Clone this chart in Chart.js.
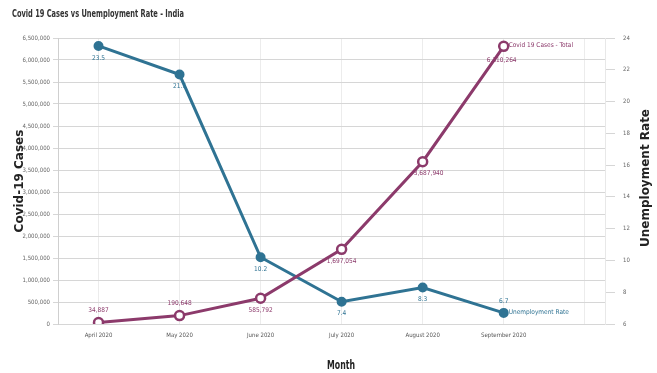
<!DOCTYPE html>
<html>
<head>
<meta charset="utf-8">
<script src="https://cdn.jsdelivr.net/npm/chart.js@4.4.1/dist/chart.umd.min.js"></script>
<style>
  html, body { margin: 0; padding: 0; background: #fff; }
  #wrap { width: 657px; height: 373px; position: relative; }
</style>
</head>
<body>
<div id="wrap"><canvas id="chart" width="657" height="373"></canvas></div>
<script>
// monthly figures, India 2020
var months = ["April 2020", "May 2020", "June 2020", "July 2020", "August 2020", "September 2020"];
var covidCases = [34887, 190648, 585792, 1697054, 3687940, 6310264];
var unemploymentRate = [23.5, 21.7, 10.2, 7.4, 8.3, 6.7];
var casesTicks = [0, 500000, 1000000, 1500000, 2000000, 2500000, 3000000, 3500000, 4000000, 4500000, 5000000, 5500000, 6000000, 6500000];
var rateTicks = [6, 8, 10, 12, 14, 16, 18, 20, 22, 24];

var COVID = "#8c3a6b";
var RATE = "#2f7393";
var narrow = "'Liberation Sans Narrow', 'DejaVu Sans Condensed', sans-serif";

function toPoints(arr) {
  return arr.map(function(v, i) { return { x: i, y: v }; });
}

// draw text squeezed horizontally so it fits a given width
function squeezedText(ctx, txt, x, y, width, align) {
  var w = ctx.measureText(txt).width;
  var k = Math.min(1, width / w);
  ctx.save();
  ctx.translate(x, y);
  ctx.scale(k, 1);
  ctx.textAlign = align;
  ctx.fillText(txt, 0, 0);
  ctx.restore();
}

// value labels next to each point, plus series name at the last point
var pointLabels = {
  id: "pointLabels",
  afterDatasetsDraw: function(chart) {
    var ctx = chart.ctx;
    ctx.save();
    ctx.font = "6.5px " + narrow;
    chart.data.datasets.forEach(function(ds, di) {
      var meta = chart.getDatasetMeta(di);
      ctx.fillStyle = ds.borderColor;
      meta.data.forEach(function(pt, i) {
        var place = ds.labelPlace[i];
        var txt = ds.labelText[i];
        ctx.textAlign = "center";
        ctx.textBaseline = "middle";
        var x = pt.x, y = pt.y;
        if (place === "above") y -= 12;
        else if (place === "below") y += 12;
        else if (place === "belowright") { y += 12; x += 6; }
        else if (place === "belowleft") { y += 14; x -= 2; }
        ctx.fillText(txt, x, y);
      });
      var last = meta.data[meta.data.length - 1];
      ctx.textAlign = "left";
      ctx.textBaseline = "middle";
      ctx.fillText(ds.label, last.x + 5, last.y - 1);
    });
    ctx.restore();
  }
};

// chart title and axis titles
var titles = {
  id: "titles",
  afterDraw: function(chart) {
    var ctx = chart.ctx;
    ctx.save();
    ctx.textBaseline = "middle";
    ctx.fillStyle = "#333";
    ctx.font = "bold 11px " + narrow;
    squeezedText(ctx, "Covid 19 Cases vs Unemployment Rate - India", 12, 14, 172, "left");

    ctx.fillStyle = "#222";
    ctx.font = "bold 13px " + narrow;
    squeezedText(ctx, "Month", 341, 366, 28, "center");

    ctx.textAlign = "center";
    ctx.font = "bold 12px 'DejaVu Sans', sans-serif";
    ctx.save();
    ctx.translate(20, 181);
    ctx.rotate(-Math.PI / 2);
    ctx.fillText("Covid-19 Cases", 0, 0);
    ctx.restore();
    ctx.save();
    ctx.translate(646, 178);
    ctx.rotate(-Math.PI / 2);
    ctx.fillText("Unemployment Rate", 0, 0);
    ctx.restore();
    ctx.restore();
  }
};

var tickFont = { family: narrow, size: 6 };

new Chart(document.getElementById("chart"), {
  type: "line",
  data: {
    datasets: [
      {
        label: "Covid 19 Cases - Total",
        data: toPoints(covidCases),
        yAxisID: "yCases",
        borderColor: COVID,
        backgroundColor: "#fff",
        borderWidth: 3,
        pointRadius: 4.5,
        pointBorderWidth: 2.5,
        pointBackgroundColor: "#fff",
        pointBorderColor: COVID,
        labelText: covidCases.map(function(v) { return v.toLocaleString("en-US"); }),
        labelPlace: ["above", "above", "below", "below", "belowright", "belowleft"]
      },
      {
        label: "Unemployment Rate",
        data: toPoints(unemploymentRate),
        yAxisID: "yRate",
        borderColor: RATE,
        backgroundColor: RATE,
        borderWidth: 3,
        pointRadius: 3.5,
        pointBackgroundColor: RATE,
        pointBorderColor: RATE,
        labelText: unemploymentRate.map(function(v) { return v.toFixed(1); }),
        labelPlace: ["below", "below", "below", "below", "below", "above"]
      }
    ]
  },
  options: {
    responsive: false,
    animation: false,
    devicePixelRatio: 1,
    layout: { padding: { top: 38, right: 0, bottom: 0, left: 0 } },
    plugins: { legend: { display: false }, tooltip: { enabled: false } },
    scales: {
      x: {
        type: "linear",
        min: -0.5,
        max: 6.25,
        afterBuildTicks: function(scale) {
          scale.ticks = months.map(function(_, i) { return { value: i }; }).concat([{ value: months.length }]);
        },
        afterFit: function(scale) { scale.height = 49; },
        ticks: {
          autoSkip: false,
          maxRotation: 0,
          color: "#555",
          font: tickFont,
          padding: 8,
          callback: function(v) { return months[v] || ""; }
        },
        grid: { color: "#ececec", lineWidth: 1, drawTicks: false },
        border: { display: false }
      },
      yCases: {
        position: "left",
        min: 0,
        max: 6500000,
        afterBuildTicks: function(scale) {
          scale.ticks = casesTicks.map(function(v) { return { value: v }; });
        },
        afterFit: function(scale) { scale.width = 58; },
        ticks: {
          color: "#666",
          font: tickFont,
          padding: 3,
          callback: function(v) { return v.toLocaleString("en-US"); }
        },
        grid: { color: "#d6d6d6", lineWidth: 1, tickLength: 5 },
        border: { display: true, color: "#cfcfcf" }
      },
      yRate: {
        position: "right",
        min: 6,
        max: 24,
        afterBuildTicks: function(scale) {
          scale.ticks = rateTicks.map(function(v) { return { value: v }; });
        },
        afterFit: function(scale) { scale.width = 52; },
        ticks: { color: "#666", font: tickFont, padding: 8 },
        grid: { drawOnChartArea: false, color: "#d6d6d6", tickLength: 10 },
        border: { display: true, color: "#e8e8e8" }
      }
    }
  },
  plugins: [pointLabels, titles]
});
</script>
</body>
</html>
